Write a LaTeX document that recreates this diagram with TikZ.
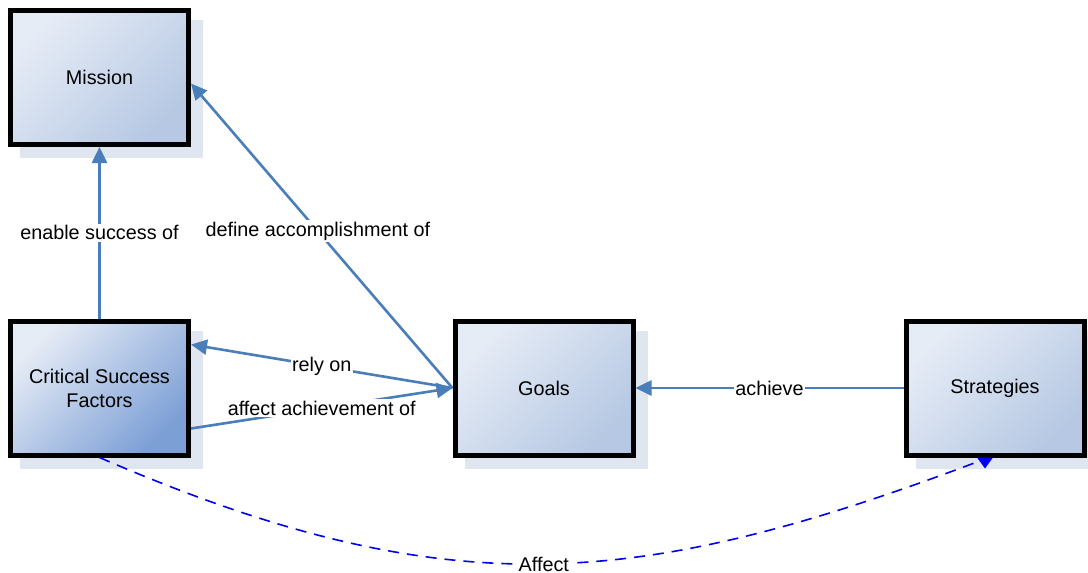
\documentclass[tikz,border=0pt]{standalone}
\usepackage{fontspec}
\setmainfont{Liberation Sans}
\usetikzlibrary{arrows.meta,calc,backgrounds}
\definecolor{connc}{HTML}{4A7EBB}
\definecolor{dashc}{HTML}{0000F0}
\definecolor{shadowc}{HTML}{E0E6F0}
\definecolor{boxlight}{HTML}{E6ECF6}
\definecolor{boxdark}{HTML}{B6C8E3}
\definecolor{csfdark}{HTML}{7C9FD5}
\begin{document}
\begin{tikzpicture}[x=1pt,y=-1pt,
  box/.style={draw=black, line width=5pt, minimum width=178pt, minimum height=134pt,
    inner sep=0pt, top color=boxlight, bottom color=boxdark, shading angle=45,
    align=center, font=\fontsize{19.8}{24}\selectfont},
  csfbox/.style={box, top color=boxlight, bottom color=csfdark, shading angle=45},
  conn/.style={draw=connc, line width=2.6pt, -{Triangle[length=16pt,width=15pt]}},
  lbl/.style={fill=white, inner sep=1.5pt, font=\fontsize{19.8}{24}\selectfont, text=black},
  affect/.style={draw=dashc, line width=1.6pt, dash pattern=on 11pt off 8pt},
  shadowbox/.style={fill=shadowc}]
\useasboundingbox (0,0) rectangle (1088,573);

\node[box] (mission) at (99.5,77.5) {Mission};
\node[csfbox] (csf) at (99.5,388) {Critical Success\\Factors};
\node[box] (goals) at (544,388) {Goals};
\node[box] (strat) at (995,388) {Strategies};

\begin{scope}[on background layer]
  \fill[white] (0,0) rectangle (1088,573);
  \foreach \n in {mission,csf,goals,strat}
    \fill[shadowbox] ([shift={(12,12)}]\n.north west) rectangle ([shift={(12,11)}]\n.south east);
\end{scope}

\draw[conn] (csf.north) -- node[lbl] {enable success of} (mission.south);
\draw[conn] (goals.west) -- node[lbl, pos=0.515] {define accomplishment of} ([shift={(0,6)}]mission.east);
\draw[conn] (goals.west) -- node[lbl] {rely on} ([shift={(0,26)}]csf.north east);
\draw[conn] ([shift={(0,-29)}]csf.south east) -- node[lbl] {affect achievement of} (goals.west);
\draw[conn] (strat.west) -- node[lbl] {achieve} (goals.east);

\coordinate (ah) at ([xshift=-10pt]strat.south);
\draw[affect] (csf.south) .. controls (450,609) and (640,589) .. node[lbl, pos=0.5] {Affect} ([shift={(-4,3)}]ah);
\fill[dashc] ($(ah)+(-8,0)$) -- ($(ah)+(8,0)$) -- ($(ah)+(0,11)$) -- cycle;
\end{tikzpicture}
\end{document}
